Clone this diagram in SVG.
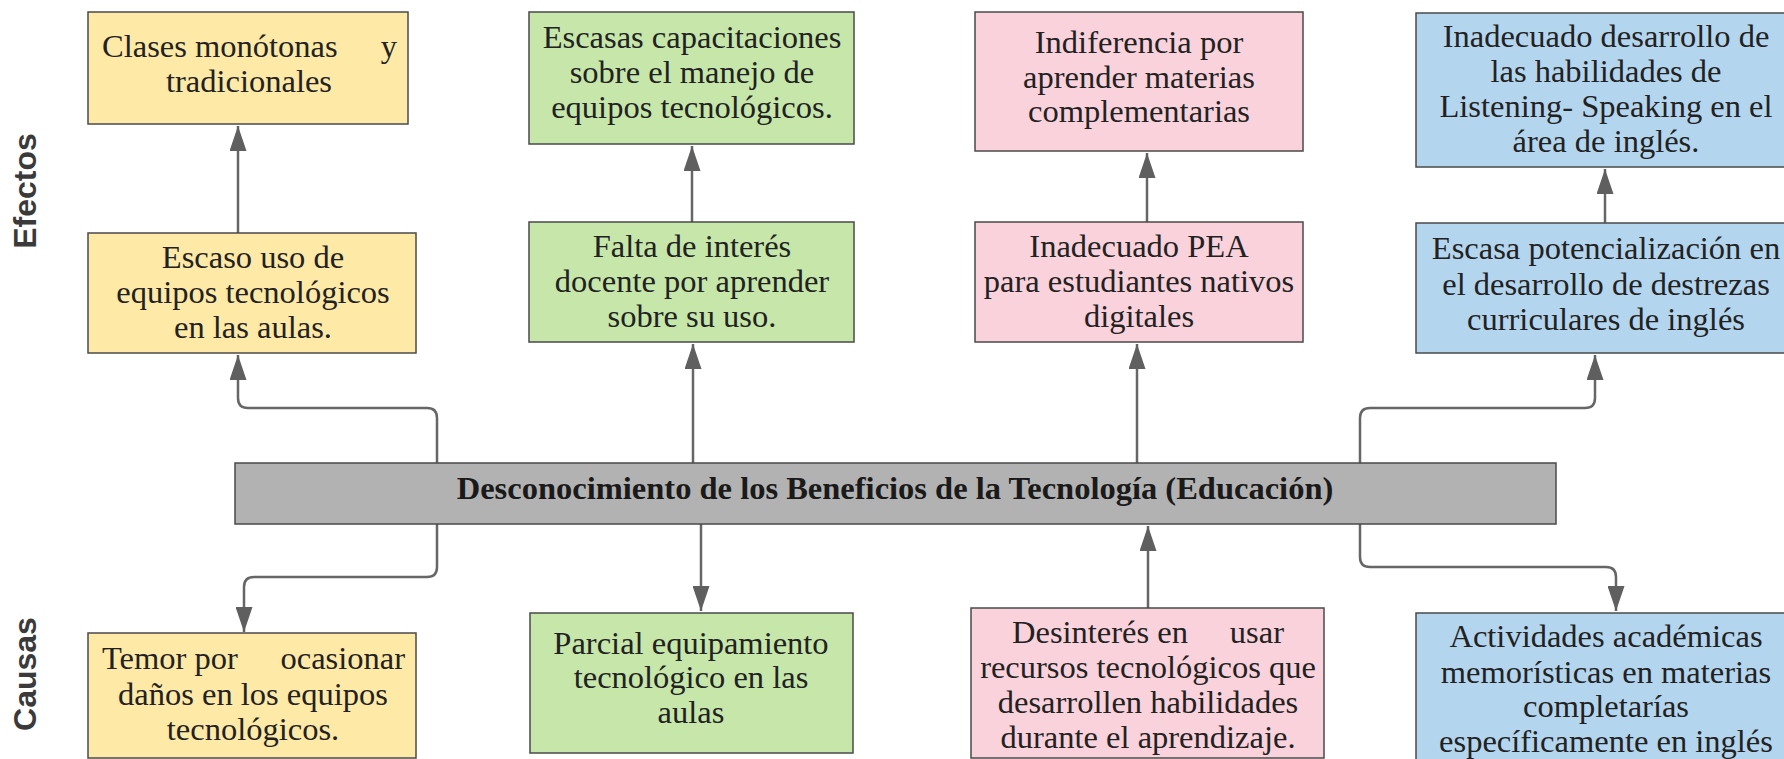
<svg xmlns="http://www.w3.org/2000/svg" width="1784" height="759" viewBox="0 0 1784 759">
<style>
.box{stroke:#4a4a4a;stroke-width:1.5}
.y{fill:#FEE9A6}.g{fill:#C6E6AA}.p{fill:#F9D2DC}.b{fill:#B4D5EE}.k{fill:#B2B2B2}
.t{font-family:"Liberation Serif","Times New Roman",serif;font-size:32.5px;fill:#222;text-anchor:middle}
.s{text-anchor:start}.e{text-anchor:end}
.h{font-family:"Liberation Serif","Times New Roman",serif;font-size:32.5px;font-weight:bold;fill:#1a1a1a;text-anchor:middle}
.lab{font-family:"Liberation Sans",Arial,sans-serif;font-size:32px;font-weight:bold;fill:#3a3a3a;text-anchor:middle}
.c{fill:none;stroke:#666;stroke-width:2.5}
</style>
<defs>
<marker id="ah" viewBox="0 0 25 17" refX="25" refY="8.5" markerWidth="25" markerHeight="17" markerUnits="userSpaceOnUse" orient="auto">
<path d="M0,0 L25,8.5 L0,17 z" fill="#5f5f5f"/>
</marker>
</defs>
<rect width="1784" height="759" fill="#fff"/>

<g id="labels">
<text class="lab" transform="translate(36,191) rotate(-90)">Efectos</text>
<text class="lab" transform="translate(36,674) rotate(-90)">Causas</text>
</g>

<g id="connectors">
<path class="c" d="M238,233 V126" marker-end="url(#ah)"/>
<path class="c" d="M437,463 V418 Q437,408 427,408 H248 Q238,408 238,398 V355" marker-end="url(#ah)"/>
<path class="c" d="M692,222 V146" marker-end="url(#ah)"/>
<path class="c" d="M693,463 V344" marker-end="url(#ah)"/>
<path class="c" d="M1147,222 V153" marker-end="url(#ah)"/>
<path class="c" d="M1137,463 V344" marker-end="url(#ah)"/>
<path class="c" d="M1605,223 V169" marker-end="url(#ah)"/>
<path class="c" d="M1360,463 V418 Q1360,408 1370,408 H1585 Q1595,408 1595,398 V355" marker-end="url(#ah)"/>
<path class="c" d="M437,524 V567 Q437,577 427,577 H254 Q244,577 244,587 V632" marker-end="url(#ah)"/>
<path class="c" d="M701,524 V611" marker-end="url(#ah)"/>
<path class="c" d="M1148,608 V526" marker-end="url(#ah)"/>
<path class="c" d="M1360,524 V557 Q1360,567 1370,567 H1606 Q1616,567 1616,577 V611" marker-end="url(#ah)"/>
</g>

<g id="e1">
<rect class="box y" x="88" y="12" width="320" height="112"/>
<text class="t s" x="102" y="57">Clases monótonas</text>
<text class="t e" x="397" y="57">y</text>
<text class="t" x="249" y="92">tradicionales</text>
</g>
<g id="e2">
<rect class="box y" x="88" y="233" width="328" height="120"/>
<text class="t" x="253" y="268">Escaso uso de</text>
<text class="t" x="253" y="303">equipos tecnológicos</text>
<text class="t" x="253" y="338">en las aulas.</text>
</g>
<g id="e3">
<rect class="box g" x="529" y="12" width="325" height="132"/>
<text class="t" x="692" y="48">Escasas capacitaciones</text>
<text class="t" x="692" y="83">sobre el manejo de</text>
<text class="t" x="692" y="118">equipos tecnológicos.</text>
</g>
<g id="e4">
<rect class="box g" x="529" y="222" width="325" height="120"/>
<text class="t" x="692" y="257">Falta de interés</text>
<text class="t" x="692" y="292">docente por aprender</text>
<text class="t" x="692" y="327">sobre su uso.</text>
</g>
<g id="e5">
<rect class="box p" x="975" y="12" width="328" height="139"/>
<text class="t" x="1139" y="53">Indiferencia por</text>
<text class="t" x="1139" y="88">aprender materias</text>
<text class="t" x="1139" y="122">complementarias</text>
</g>
<g id="e6">
<rect class="box p" x="975" y="222" width="328" height="120"/>
<text class="t" x="1139" y="257">Inadecuado PEA</text>
<text class="t" x="1139" y="292">para estudiantes nativos</text>
<text class="t" x="1139" y="327">digitales</text>
</g>
<g id="e7">
<rect class="box b" x="1416" y="13" width="380" height="154"/>
<text class="t" x="1606" y="47">Inadecuado desarrollo de</text>
<text class="t" x="1606" y="82">las habilidades de</text>
<text class="t" x="1606" y="117">Listening- Speaking en el</text>
<text class="t" x="1606" y="152">área de inglés.</text>
</g>
<g id="e8">
<rect class="box b" x="1416" y="223" width="380" height="130"/>
<text class="t" x="1606" y="259">Escasa potencialización en</text>
<text class="t" x="1606" y="295">el desarrollo de destrezas</text>
<text class="t" x="1606" y="330">curriculares de inglés</text>
</g>

<g id="problem">
<rect class="box k" x="235" y="463" width="1321" height="61"/>
<text class="h" x="895" y="499">Desconocimiento de los Beneficios de la Tecnología (Educación)</text>
</g>

<g id="c1">
<rect class="box y" x="88" y="633" width="328" height="125"/>
<text class="t s" x="102" y="669">Temor por</text>
<text class="t e" x="405" y="669">ocasionar</text>
<text class="t" x="253" y="705">daños en los equipos</text>
<text class="t" x="253" y="740">tecnológicos.</text>
</g>
<g id="c2">
<rect class="box g" x="530" y="613" width="323" height="140"/>
<text class="t" x="691" y="654">Parcial equipamiento</text>
<text class="t" x="691" y="688">tecnológico en las</text>
<text class="t" x="691" y="723">aulas</text>
</g>
<g id="c3">
<rect class="box p" x="971" y="608" width="353" height="150"/>
<text class="t s" x="1012" y="643">Desinterés en</text>
<text class="t e" x="1284" y="643">usar</text>
<text class="t" x="1148" y="678">recursos tecnológicos que</text>
<text class="t" x="1148" y="713">desarrollen habilidades</text>
<text class="t" x="1148" y="748">durante el aprendizaje.</text>
</g>
<g id="c4">
<rect class="box b" x="1416" y="613" width="380" height="160"/>
<text class="t" x="1606" y="647">Actividades académicas</text>
<text class="t" x="1606" y="683">memorísticas en materias</text>
<text class="t" x="1606" y="717">completarías</text>
<text class="t" x="1606" y="752">específicamente en inglés</text>
</g>
</svg>
